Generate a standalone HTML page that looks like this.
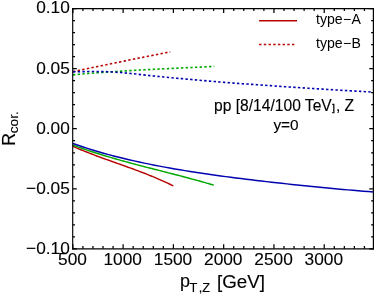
<!DOCTYPE html>
<html><head><meta charset="utf-8"><title>plot</title>
<style>html,body{margin:0;padding:0;background:#fff;overflow:hidden}body{width:374px;height:295px;position:relative;font-family:"Liberation Sans",sans-serif}</style></head>
<body>
<svg width="374" height="295" viewBox="0 0 374 295" style="position:absolute;left:0;top:0;will-change:transform">
<rect width="374" height="295" fill="#fff"/>
<g fill="none" stroke-width="1.45">
<path d="M73.00,146.34 L74.70,147.09 L76.40,147.82 L78.10,148.55 L79.80,149.26 L81.50,149.97 L83.20,150.66 L84.90,151.35 L86.60,152.03 L88.30,152.70 L90.00,153.36 L91.70,154.02 L93.40,154.66 L95.10,155.31 L96.80,155.95 L98.50,156.58 L100.20,157.20 L101.90,157.83 L103.60,158.45 L105.30,159.06 L107.00,159.68 L108.70,160.29 L110.40,160.89 L112.10,161.50 L113.80,162.11 L115.50,162.71 L117.20,163.31 L118.90,163.92 L120.60,164.52 L122.30,165.13 L124.00,165.73 L125.70,166.34 L127.40,166.95 L129.10,167.57 L130.80,168.18 L132.50,168.80 L134.20,169.43 L135.90,170.06 L137.60,170.69 L139.30,171.33 L141.00,171.98 L142.70,172.63 L144.40,173.28 L146.10,173.95 L147.80,174.62 L149.50,175.30 L151.20,175.99 L152.90,176.69 L154.60,177.40 L156.30,178.11 L158.00,178.84 L159.70,179.58 L161.40,180.33 L163.10,181.09 L164.80,181.86 L166.50,182.64 L168.20,183.44 L169.90,184.25 L171.60,185.08 L173.30,185.92" stroke="#b80000"/>
<path d="M73.00,145.10 L75.39,145.98 L77.77,146.84 L80.16,147.69 L82.55,148.52 L84.93,149.35 L87.32,150.15 L89.71,150.95 L92.09,151.73 L94.48,152.50 L96.86,153.26 L99.25,154.01 L101.64,154.75 L104.02,155.48 L106.41,156.20 L108.80,156.91 L111.18,157.61 L113.57,158.30 L115.96,158.99 L118.34,159.67 L120.73,160.33 L123.12,161.00 L125.50,161.65 L127.89,162.30 L130.27,162.95 L132.66,163.59 L135.05,164.22 L137.43,164.85 L139.82,165.48 L142.21,166.10 L144.59,166.72 L146.98,167.34 L149.37,167.96 L151.75,168.57 L154.14,169.18 L156.53,169.79 L158.91,170.40 L161.30,171.01 L163.68,171.62 L166.07,172.23 L168.46,172.84 L170.84,173.45 L173.23,174.07 L175.62,174.68 L178.00,175.30 L180.39,175.92 L182.78,176.55 L185.16,177.18 L187.55,177.81 L189.94,178.45 L192.32,179.09 L194.71,179.74 L197.09,180.40 L199.48,181.06 L201.87,181.72 L204.25,182.40 L206.64,183.08 L209.03,183.77 L211.41,184.47 L213.80,185.18" stroke="#00a800"/>
<path d="M73.00,143.54 L78.09,145.30 L83.18,147.00 L88.27,148.63 L93.37,150.20 L98.46,151.72 L103.55,153.18 L108.64,154.58 L113.73,155.93 L118.82,157.24 L123.92,158.50 L129.01,159.71 L134.10,160.88 L139.19,162.01 L144.28,163.10 L149.37,164.15 L154.46,165.17 L159.56,166.15 L164.65,167.11 L169.74,168.03 L174.83,168.92 L179.92,169.79 L185.01,170.63 L190.11,171.45 L195.20,172.25 L200.29,173.02 L205.38,173.78 L210.47,174.51 L215.56,175.23 L220.65,175.93 L225.75,176.61 L230.84,177.28 L235.93,177.94 L241.02,178.58 L246.11,179.21 L251.20,179.83 L256.29,180.44 L261.39,181.04 L266.48,181.62 L271.57,182.20 L276.66,182.77 L281.75,183.33 L286.84,183.88 L291.94,184.42 L297.03,184.96 L302.12,185.49 L307.21,186.01 L312.30,186.52 L317.39,187.02 L322.48,187.52 L327.58,188.01 L332.67,188.49 L337.76,188.96 L342.85,189.42 L347.94,189.88 L353.03,190.32 L358.13,190.75 L363.22,191.17 L368.31,191.59 L373.40,191.98" stroke="#0000b0"/>
<path d="M73.00,71.60 L74.65,71.26 L76.30,70.92 L77.95,70.57 L79.60,70.23 L81.25,69.89 L82.89,69.55 L84.54,69.21 L86.19,68.87 L87.84,68.53 L89.49,68.19 L91.14,67.85 L92.79,67.51 L94.44,67.17 L96.09,66.83 L97.74,66.49 L99.39,66.15 L101.04,65.81 L102.68,65.47 L104.33,65.14 L105.98,64.80 L107.63,64.46 L109.28,64.12 L110.93,63.79 L112.58,63.45 L114.23,63.11 L115.88,62.78 L117.53,62.44 L119.18,62.10 L120.83,61.77 L122.47,61.43 L124.12,61.10 L125.77,60.76 L127.42,60.43 L129.07,60.09 L130.72,59.76 L132.37,59.42 L134.02,59.09 L135.67,58.76 L137.32,58.42 L138.97,58.09 L140.62,57.76 L142.26,57.42 L143.91,57.09 L145.56,56.76 L147.21,56.43 L148.86,56.09 L150.51,55.76 L152.16,55.43 L153.81,55.10 L155.46,54.77 L157.11,54.44 L158.76,54.11 L160.41,53.78 L162.05,53.45 L163.70,53.12 L165.35,52.79 L167.00,52.46 L168.65,52.13 L170.30,51.80" stroke="#b80000" stroke-dasharray="2.4 2.3" stroke-width="1.6"/>
<path d="M73.00,74.84 L75.39,74.61 L77.79,74.40 L80.18,74.18 L82.58,73.97 L84.97,73.77 L87.37,73.57 L89.76,73.38 L92.16,73.18 L94.55,73.00 L96.95,72.81 L99.34,72.63 L101.74,72.46 L104.13,72.29 L106.53,72.12 L108.92,71.95 L111.32,71.79 L113.71,71.63 L116.11,71.47 L118.50,71.32 L120.90,71.17 L123.29,71.02 L125.69,70.88 L128.08,70.74 L130.48,70.60 L132.87,70.46 L135.27,70.32 L137.66,70.19 L140.06,70.06 L142.45,69.93 L144.85,69.80 L147.24,69.67 L149.64,69.55 L152.03,69.42 L154.43,69.30 L156.82,69.18 L159.22,69.06 L161.61,68.94 L164.01,68.82 L166.40,68.71 L168.80,68.59 L171.19,68.47 L173.59,68.36 L175.98,68.24 L178.38,68.13 L180.77,68.01 L183.17,67.90 L185.56,67.79 L187.96,67.67 L190.35,67.56 L192.75,67.44 L195.14,67.32 L197.54,67.21 L199.93,67.09 L202.33,66.97 L204.72,66.85 L207.12,66.73 L209.51,66.61 L211.91,66.49 L214.30,66.36" stroke="#00a800" stroke-dasharray="2.4 2.3" stroke-width="1.6"/>
<path d="M73.00,71.90 L75.52,71.81 L78.05,71.74 L80.57,71.67 L83.10,71.62 L85.62,71.58 L88.15,71.56 L90.67,71.55 L93.19,71.56 L95.72,71.57 L98.24,71.58 L100.77,71.60 L103.29,71.63 L105.82,71.66 L108.34,71.74 L110.87,71.87 L113.39,72.02 L115.91,72.20 L118.44,72.39 L120.96,72.57 L123.49,72.78 L126.01,73.01 L128.54,73.26 L131.06,73.51 L133.58,73.78 L136.11,74.07 L138.63,74.35 L141.16,74.62 L143.68,74.90 L146.21,75.17 L148.73,75.44 L151.26,75.70 L153.78,75.97 L156.30,76.23 L158.83,76.48 L161.35,76.73 L163.88,76.98 L166.40,77.23 L168.93,77.47 L171.45,77.70 L173.97,77.94 L176.50,78.18 L179.02,78.41 L181.55,78.64 L184.07,78.87 L186.60,79.11 L189.12,79.33 L191.65,79.56 L194.17,79.79 L196.69,80.01 L199.22,80.23 L201.74,80.45 L204.27,80.67 L206.79,80.89 L209.32,81.10 L211.84,81.32 L214.36,81.53 L216.89,81.74 L219.41,81.95 L221.94,82.16 L224.46,82.36 L226.99,82.57 L229.51,82.76 L232.04,82.96 L234.56,83.15 L237.08,83.33 L239.61,83.52 L242.13,83.70 L244.66,83.88 L247.18,84.06 L249.71,84.24 L252.23,84.41 L254.75,84.59 L257.28,84.76 L259.80,84.94 L262.33,85.11 L264.85,85.29 L267.38,85.47 L269.90,85.64 L272.43,85.82 L274.95,86.00 L277.47,86.17 L280.00,86.35 L282.52,86.52 L285.05,86.70 L287.57,86.87 L290.10,87.04 L292.62,87.21 L295.14,87.38 L297.67,87.55 L300.19,87.71 L302.72,87.88 L305.24,88.04 L307.77,88.20 L310.29,88.37 L312.82,88.53 L315.34,88.69 L317.86,88.85 L320.39,89.00 L322.91,89.16 L325.44,89.32 L327.96,89.47 L330.49,89.63 L333.01,89.78 L335.53,89.93 L338.06,90.08 L340.58,90.23 L343.11,90.38 L345.63,90.53 L348.16,90.68 L350.68,90.83 L353.21,90.97 L355.73,91.12 L358.25,91.26 L360.78,91.40 L363.30,91.54 L365.83,91.68 L368.35,91.82 L370.88,91.96 L373.40,92.10" stroke="#0000b0" stroke-dasharray="2.4 2.3" stroke-width="1.6"/>
<path d="M259.1,20.8 H297" stroke="#b80000"/>
<path d="M259.1,44.5 H294.4" stroke="#b80000" stroke-dasharray="2.4 2.3" stroke-width="1.6"/>
</g>
<g stroke="#000" stroke-width="1.15" fill="none">
<path d="M72.7,8.025 V249.5" stroke-width="1.15"/>
<path d="M373.4,8.025 V249.5" stroke-width="1.2"/>
<path d="M72.125,8.6 H374" stroke-width="1.15"/>
<path d="M72.125,248.85 H374" stroke-width="1.3"/>
<path d="M72.85,248.85 v-4.55 M72.85,8.6 v4.3 M82.91,248.85 v-2.75 M82.91,8.6 v2.5 M92.96,248.85 v-2.75 M92.96,8.6 v2.5 M103.01,248.85 v-2.75 M103.01,8.6 v2.5 M113.07,248.85 v-2.75 M113.07,8.6 v2.5 M123.12,248.85 v-4.55 M123.12,8.6 v4.3 M133.18,248.85 v-2.75 M133.18,8.6 v2.5 M143.23,248.85 v-2.75 M143.23,8.6 v2.5 M153.29,248.85 v-2.75 M153.29,8.6 v2.5 M163.34,248.85 v-2.75 M163.34,8.6 v2.5 M173.40,248.85 v-4.55 M173.40,8.6 v4.3 M183.45,248.85 v-2.75 M183.45,8.6 v2.5 M193.51,248.85 v-2.75 M193.51,8.6 v2.5 M203.56,248.85 v-2.75 M203.56,8.6 v2.5 M213.62,248.85 v-2.75 M213.62,8.6 v2.5 M223.67,248.85 v-4.55 M223.67,8.6 v4.3 M233.73,248.85 v-2.75 M233.73,8.6 v2.5 M243.78,248.85 v-2.75 M243.78,8.6 v2.5 M253.84,248.85 v-2.75 M253.84,8.6 v2.5 M263.89,248.85 v-2.75 M263.89,8.6 v2.5 M273.95,248.85 v-4.55 M273.95,8.6 v4.3 M284.00,248.85 v-2.75 M284.00,8.6 v2.5 M294.06,248.85 v-2.75 M294.06,8.6 v2.5 M304.12,248.85 v-2.75 M304.12,8.6 v2.5 M314.17,248.85 v-2.75 M314.17,8.6 v2.5 M324.23,248.85 v-4.55 M324.23,8.6 v4.3 M334.28,248.85 v-2.75 M334.28,8.6 v2.5 M344.34,248.85 v-2.75 M344.34,8.6 v2.5 M354.39,248.85 v-2.75 M354.39,8.6 v2.5 M364.44,248.85 v-2.75 M364.44,8.6 v2.5 M72.7,8.60 h4.1 M373.4,8.60 h-4.1 M72.7,20.61 h2.3 M373.4,20.61 h-2.3 M72.7,32.62 h2.3 M373.4,32.62 h-2.3 M72.7,44.64 h2.3 M373.4,44.64 h-2.3 M72.7,56.65 h2.3 M373.4,56.65 h-2.3 M72.7,68.66 h4.1 M373.4,68.66 h-4.1 M72.7,80.67 h2.3 M373.4,80.67 h-2.3 M72.7,92.69 h2.3 M373.4,92.69 h-2.3 M72.7,104.70 h2.3 M373.4,104.70 h-2.3 M72.7,116.71 h2.3 M373.4,116.71 h-2.3 M72.7,128.72 h4.1 M373.4,128.72 h-4.1 M72.7,140.74 h2.3 M373.4,140.74 h-2.3 M72.7,152.75 h2.3 M373.4,152.75 h-2.3 M72.7,164.76 h2.3 M373.4,164.76 h-2.3 M72.7,176.78 h2.3 M373.4,176.78 h-2.3 M72.7,188.79 h4.1 M373.4,188.79 h-4.1 M72.7,200.80 h2.3 M373.4,200.80 h-2.3 M72.7,212.81 h2.3 M373.4,212.81 h-2.3 M72.7,224.82 h2.3 M373.4,224.82 h-2.3 M72.7,236.84 h2.3 M373.4,236.84 h-2.3 M72.7,248.85 h4.1 M373.4,248.85 h-4.1" stroke-width="1.25"/>
</g>
<g font-family="Liberation Sans, sans-serif" fill="#000" stroke="#000" stroke-width="0.12">
<text x="69.8" y="13.30" font-size="17.3" text-anchor="end">0.10</text>
<text x="69.8" y="73.56" font-size="17.3" text-anchor="end">0.05</text>
<text x="69.8" y="133.62" font-size="17.3" text-anchor="end">0.00</text>
<text x="69.8" y="193.69" font-size="17.3" text-anchor="end">−0.05</text>
<text x="69.8" y="253.75" font-size="17.3" text-anchor="end">−0.10</text>
<text x="72.45" y="264.85" font-size="17.3" text-anchor="middle">500</text>
<text x="122.72" y="264.85" font-size="17.3" text-anchor="middle">1000</text>
<text x="173.00" y="264.85" font-size="17.3" text-anchor="middle">1500</text>
<text x="223.27" y="264.85" font-size="17.3" text-anchor="middle">2000</text>
<text x="273.55" y="264.85" font-size="17.3" text-anchor="middle">2500</text>
<text x="323.83" y="264.85" font-size="17.3" text-anchor="middle">3000</text>
<text x="316" y="24.4" font-size="14.1" stroke="none">type<tspan dx="0.25">−</tspan><tspan dx="0.35">A</tspan></text>
<text x="316" y="47.7" font-size="14.1" stroke="none">type<tspan dx="0.25">−</tspan><tspan dx="0.35">B</tspan></text>
<text x="284.1" y="111.0" font-size="15.6" text-anchor="middle">pp [8/14/100 TeV<tspan font-size="9.2" dx="0.6" dy="0.4" stroke-width="0.45">]</tspan><tspan dy="-0.4" dx="1.0">, Z</tspan></text>
<text x="286" y="130.0" font-size="15.4" text-anchor="middle">y=0</text>
<text x="180.0" y="287.4" font-size="18">p</text>
<text y="292.3" font-size="12.8"><tspan x="189.4">T</tspan><tspan x="198.8">,</tspan><tspan x="202.3">Z</tspan></text>
<text x="217.0" y="287.5" font-size="18.8">[GeV]</text>
<text transform="translate(14.6,146) rotate(-90)" font-size="18">R</text>
<text transform="translate(18.4,133.2) rotate(-90)" font-size="13.6">cor.</text>
</g>
</svg>
</body></html>
